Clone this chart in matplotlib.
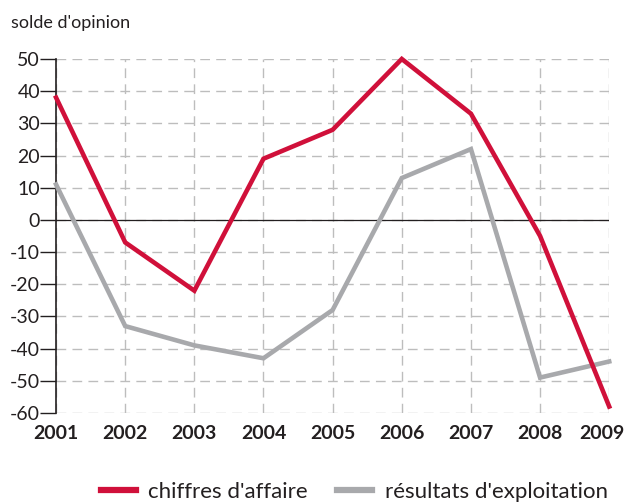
import matplotlib.pyplot as plt
from matplotlib.lines import Line2D

years = [2001, 2002, 2003, 2004, 2005, 2006, 2007, 2008, 2009]
chiffres = [38, -7, -22, 19, 28, 50, 33, -5, -58]
resultats = [11, -33, -39, -43, -28, 13, 22, -49, -44]
yticks = [50, 40, 30, 20, 10, 0, -10, -20, -30, -40, -50, -60]

plt.rcParams['font.family'] = ['Lato', 'DejaVu Sans']

fig = plt.figure(figsize=(6.3, 5.04), dpi=100)
ax = fig.add_axes([0.089, 0.1806, 0.878, 0.7024])

red = '#D0103A'
grey = '#A8A9AC'
ink = '#231F20'

ax.plot(years, chiffres, color=red, lw=3.3, clip_on=False, zorder=4,
        solid_joinstyle='miter')
ax.plot(years, resultats, color=grey, lw=3.3, clip_on=False, zorder=3,
        solid_joinstyle='miter')

ax.set_xlim(2001, 2009)
ax.set_ylim(-60, 50)
ax.set_xticks(years)
ax.set_xticklabels([])
ax.set_yticks(yticks)
ax.set_yticklabels([str(v) for v in yticks], fontsize=14, color=ink)

# year labels drawn as annotations so the last one can sit inside the figure
for i, y in enumerate(years):
    dx = -5 if i == len(years) - 1 else 0
    ax.annotate(str(y), xy=(y, 0), xycoords=('data', 'axes fraction'),
                xytext=(dx, -9), textcoords='offset points', ha='center',
                va='top', fontsize=14, fontweight='bold', color=ink)

ax.grid(True, color='#BDBDBD', lw=1, linestyle=(0, (7, 4.5)))
ax.axhline(0, color=ink, lw=0.9, zorder=2)

for s in ['top', 'right', 'bottom']:
    ax.spines[s].set_visible(False)
ax.spines['left'].set_color(ink)
ax.spines['left'].set_linewidth(1.2)

ax.tick_params(axis='y', direction='out', length=11.5, width=1,
               color=ink, pad=0)
ax.tick_params(axis='x', length=0)

fig.text(0.018, 0.955, "solde d'opinion", fontsize=13, color=ink,
         va='center', ha='left')

handles = [Line2D([], [], color=red, lw=4.5),
           Line2D([], [], color=grey, lw=4.5)]
labels = ["chiffres d'affaire", "résultats d'exploitation"]
leg = fig.legend(handles, labels, loc='center', bbox_to_anchor=(0.562, 0.024),
                 ncol=2, frameon=False, fontsize=16, handlelength=1.6,
                 columnspacing=1.3, handletextpad=0.55)
for t in leg.get_texts():
    t.set_color(ink)

fig.savefig('out.png', dpi=100)
